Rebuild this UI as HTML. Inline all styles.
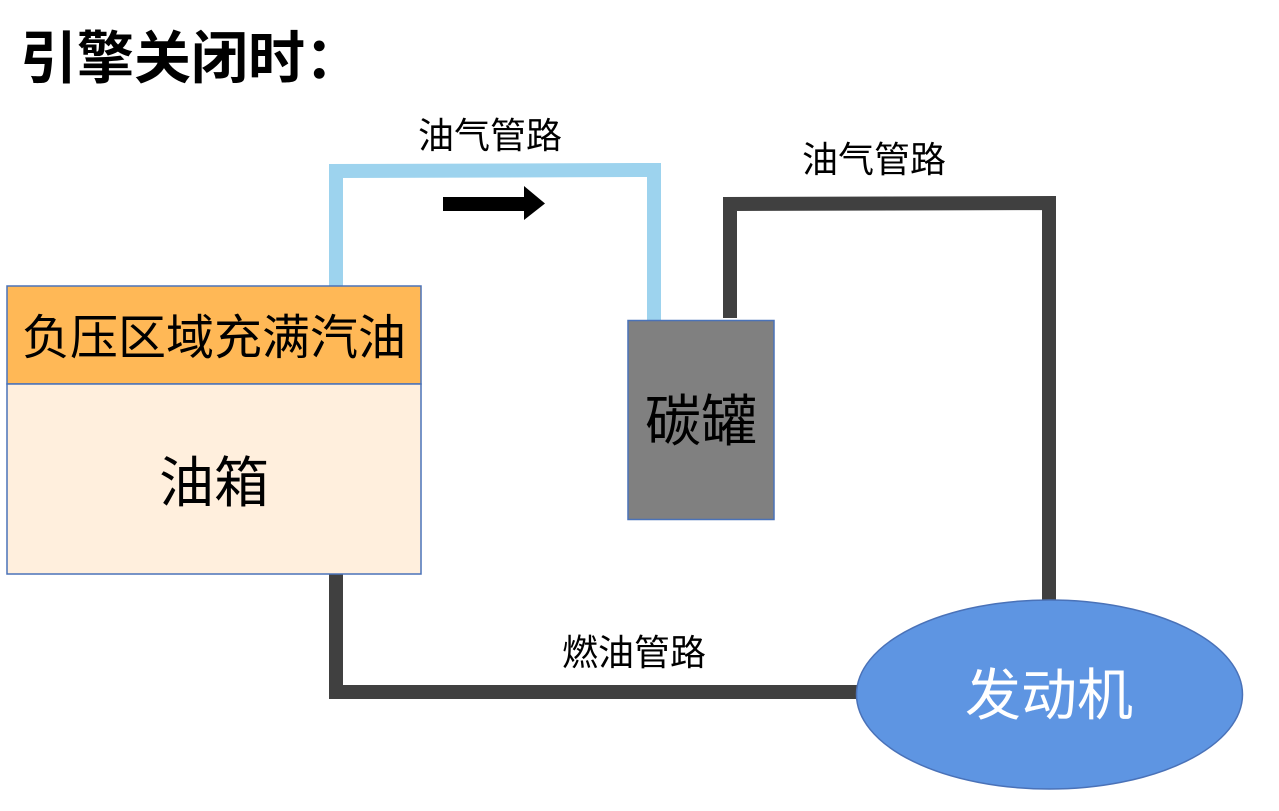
<!DOCTYPE html>
<html><head><meta charset="utf-8"><style>
html,body{margin:0;padding:0;background:#fff;width:1279px;height:811px;overflow:hidden}
svg text{font-family:"Liberation Sans","Noto Sans CJK SC",sans-serif}
</style></head><body>
<svg width="1279" height="811" viewBox="0 0 1279 811" xmlns="http://www.w3.org/2000/svg">
<text x="20" y="78" font-size="57" font-weight="bold" fill="#000">引擎关闭时：</text>
<polyline points="336,286 336,171 654,170 654,321" fill="none" stroke="#9dd3ee" stroke-width="14"/>
<polygon points="443,197 524,197 524,186 545,203.5 524,220 524,211 443,211" fill="#000"/>
<text x="418" y="148" font-size="36" fill="#000">油气管路</text>
<text x="802" y="172" font-size="36" fill="#000">油气管路</text>
<text x="562" y="665" font-size="36" fill="#000">燃油管路</text>
<polyline points="730,318 730,204 1049,203 1049,602" fill="none" stroke="#404040" stroke-width="14"/>
<polyline points="336,574 336,692 860,692" fill="none" stroke="#404040" stroke-width="14"/>
<rect x="7" y="286" width="414" height="98" fill="#ffb856" stroke="#4a72b8" stroke-width="1.5"/>
<rect x="7" y="384" width="414" height="190" fill="#ffefdd" stroke="#4a72b8" stroke-width="1.5"/>
<text x="214" y="354" font-size="48" text-anchor="middle" fill="#000">负压区域充满汽油</text>
<text x="214" y="502" font-size="55" text-anchor="middle" fill="#000">油箱</text>
<rect x="628" y="320.5" width="146" height="199" fill="#808080" stroke="#4a72b8" stroke-width="1.5"/>
<text x="701" y="441" font-size="56" text-anchor="middle" fill="#000">碳罐</text>
<ellipse cx="1049.5" cy="694.5" rx="193" ry="94.5" fill="#5e95e2" stroke="#4a72b8" stroke-width="1.5"/>
<text x="1049" y="715" font-size="56" text-anchor="middle" fill="#fff">发动机</text>
</svg>
</body></html>
